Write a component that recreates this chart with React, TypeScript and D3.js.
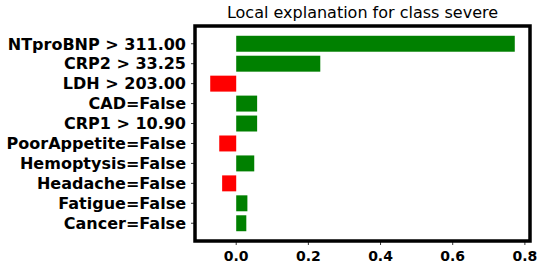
import * as d3 from "d3";
import React from "react";

// feature names, top to bottom
const features = [
  "NTproBNP > 311.00",
  "CRP2 > 33.25",
  "LDH > 203.00",
  "CAD=False",
  "CRP1 > 10.90",
  "PoorAppetite=False",
  "Hemoptysis=False",
  "Headache=False",
  "Fatigue=False",
  "Cancer=False",
];
const weights = [0.772, 0.233, -0.072, 0.058, 0.058, -0.047, 0.05, -0.039, 0.031, 0.028];
const xTicks = [0.0, 0.2, 0.4, 0.6, 0.8];
const title = "Local explanation for class severe";

const W = 544;
const H = 271;
const box = { left: 195, right: 530, top: 26, bottom: 241 };

function App() {
  const lo = d3.min(weights)!;
  const hi = d3.max(weights)!;
  const pad = (hi - lo) * 0.05;
  const x = d3.scaleLinear().domain([lo - pad, hi + pad]).range([box.left, box.right]);

  // matplotlib-like barh: index positions with 0.8 height, margins 0.05
  const n = features.length;
  const yLo = -0.4 - (n - 1 + 0.8) * 0.05;
  const yHi = n - 1 + 0.4 + (n - 1 + 0.8) * 0.05;
  const y = d3.scaleLinear().domain([yHi, yLo]).range([box.top, box.bottom]);
  const pos = (i: number) => n - 1 - i;
  const bh = y(0) - y(0.8);

  return (
    <svg
      width={W}
      height={H}
      style={{ position: "absolute", left: 0, top: 0, background: "#fff" }}
      fontFamily="DejaVu Sans"
    >
      <text x={(box.left + box.right) / 2} y={18} fontSize={16} textAnchor="middle" fill="#000">
        {title}
      </text>

      {weights.map((w, i) => (
        <rect
          key={features[i]}
          x={x(Math.min(0, w))}
          y={y(pos(i) + 0.4)}
          width={Math.abs(x(w) - x(0))}
          height={bh}
          fill={w > 0 ? "#008000" : "#ff0000"}
        />
      ))}

      {/* y ticks and labels */}
      {features.map((f, i) => (
        <g key={f}>
          <line x1={box.left - 4} x2={box.left} y1={y(pos(i))} y2={y(pos(i))} stroke="#000" strokeWidth={0.8} />
          <text
            x={186}
            y={y(pos(i))}
            dy="0.36em"
            textAnchor="end"
            fontSize={16}
            fontWeight="bold"
            fill="#000"
          >
            {f}
          </text>
        </g>
      ))}

      {/* x ticks and labels */}
      {xTicks.map((t) => (
        <g key={t}>
          <line x1={x(t)} x2={x(t)} y1={box.bottom} y2={box.bottom + 4} stroke="#000" strokeWidth={0.8} />
          <text x={x(t)} y={261} textAnchor="middle" fontSize={14} fontWeight="bold" fill="#000">
            {d3.format(".1f")(t)}
          </text>
        </g>
      ))}

      <rect
        x={box.left}
        y={box.top}
        width={box.right - box.left}
        height={box.bottom - box.top}
        fill="none"
        stroke="#000"
        strokeWidth={3.5}
      />
    </svg>
  );
}

export default App;
